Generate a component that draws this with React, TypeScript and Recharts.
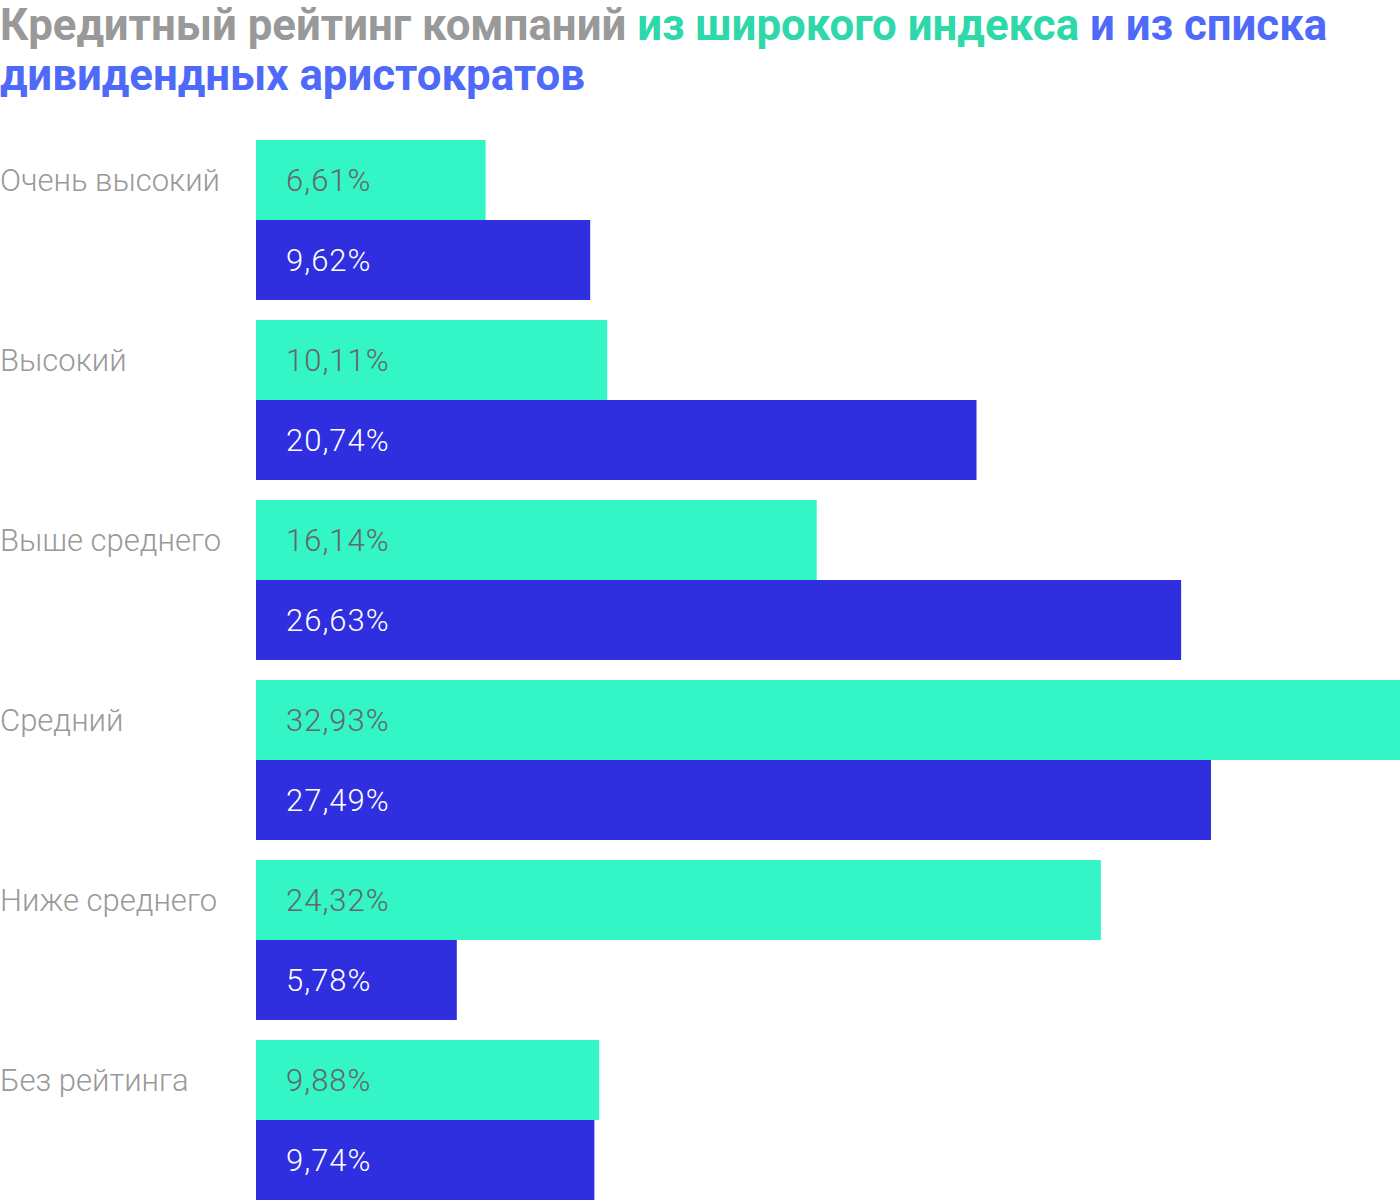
import { BarChart, Bar, XAxis, YAxis, LabelList } from 'recharts'

const categories = [
	'Очень высокий',
	'Высокий',
	'Выше среднего',
	'Средний',
	'Ниже среднего',
	'Без рейтинга',
]
const broadIndex = [6.61, 10.11, 16.14, 32.93, 24.32, 9.88]
const aristocrats = [9.62, 20.74, 26.63, 27.49, 5.78, 9.74]

const data = categories.map((name, i) => ({
	name,
	broad: broadIndex[i],
	aristo: aristocrats[i],
}))

const font = 'Roboto, "Noto Sans", sans-serif'
const fmt = (v: number) => v.toFixed(2).replace('.', ',') + '%'

const CategoryTick = (props: any) => {
	const { y, payload } = props
	return (
		<text
			x={0}
			y={y - 40}
			dy={11}
			textAnchor='start'
			fill='#999999'
			fontSize={31}
			fontWeight={300}
			fontFamily={font}
		>
			{payload.value}
		</text>
	)
}

const makeLabel = (color: string) => (props: any) => {
	const { x, y, height, value } = props
	return (
		<text
			x={x + 30}
			y={y + height / 2}
			dy={11}
			fill={color}
			fontSize={31}
			fontWeight={300}
			letterSpacing={1}
			fontFamily={font}
		>
			{fmt(value)}
		</text>
	)
}

const App = () => {
	return (
		<div
			style={{
				position: 'absolute',
				left: 0,
				top: 0,
				width: 1400,
				height: 1200,
				overflow: 'hidden',
				background: '#fff',
				fontFamily: font,
			}}
		>
			<div
				style={{
					position: 'absolute',
					left: 0,
					top: 0,
					fontSize: 43.8,
					fontWeight: 700,
					lineHeight: '50px',
					color: '#999999',
					width: 1400,
				}}
			>
				Кредитный рейтинг компаний{' '}
				<span style={{ color: '#2ED8A8' }}>из широкого индекса</span>{' '}
				<span style={{ color: '#4F6AF8' }}>
					и из списка
					<br />
					дивидендных аристократов
				</span>
			</div>
			<div style={{ position: 'absolute', left: 0, top: 0 }}>
				<BarChart
					width={1400}
					height={1210}
					data={data}
					layout='vertical'
					margin={{ top: 130, right: 0, left: 0, bottom: 0 }}
					barCategoryGap={10}
					barGap={0}
				>
					<XAxis type='number' domain={[0, 32.93]} hide />
					<YAxis
						type='category'
						dataKey='name'
						width={256}
						axisLine={false}
						tickLine={false}
						tick={<CategoryTick />}
					/>
					<Bar dataKey='broad' fill='#33F5C5' isAnimationActive={false}>
						<LabelList dataKey='broad' content={makeLabel('#666666')} />
					</Bar>
					<Bar dataKey='aristo' fill='#2F2FE0' isAnimationActive={false}>
						<LabelList dataKey='aristo' content={makeLabel('#FFFFFF')} />
					</Bar>
				</BarChart>
			</div>
		</div>
	)
}

export default App
